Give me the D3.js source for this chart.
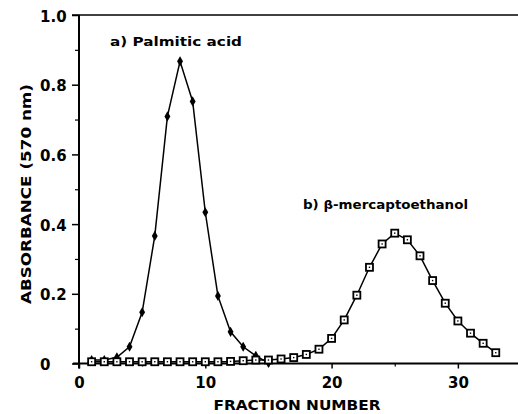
<!DOCTYPE html>
<html>
<head>
<meta charset="utf-8">
<script src="https://cdn.jsdelivr.net/npm/d3@7"></script>
<style>
  html, body { margin: 0; padding: 0; background: #fff; }
  svg { display: block; }
  text { font-family: "DejaVu Sans", "Liberation Sans", Arial, sans-serif; font-weight: bold; fill: #000; }
</style>
</head>
<body>
<svg id="chart" width="518" height="414"></svg>
<script>
// ---- data ----
const fractionsA = [1,2,3,4,5,6,7,8,9,10,11,12,13,14,15];
const palmitic   = [0.010,0.010,0.018,0.048,0.147,0.366,0.709,0.867,0.752,0.434,0.194,0.091,0.048,0.022,0.002];
const fractionsB = [1,2,3,4,5,6,7,8,9,10,11,12,13,14,15,16,17,18,19,20,21,22,23,24,25,26,27,28,29,30,31,32,33];
const mercapto   = [0.005,0.005,0.005,0.005,0.005,0.005,0.005,0.005,0.005,0.005,0.005,0.006,0.008,0.010,0.010,
                    0.013,0.017,0.026,0.041,0.072,0.125,0.196,0.276,0.343,0.374,0.355,0.309,0.238,0.173,0.122,0.087,0.058,0.031];
const xTicks      = [0,10,20,30];
const xMinorTicks = [5,15,25];
const yTicks      = [0,0.2,0.4,0.6,0.8,1.0];
const yTickLabels = ["0","0.2","0.4","0.6","0.8","1.0"];
const yMinorTicks = [0.1,0.3,0.5,0.7,0.9];
const labelA = "a) Palmitic acid";
const labelB = "b) \u03B2-mercaptoethanol";
const xTitle = "FRACTION NUMBER";
const yTitle = "ABSORBANCE (570 nm)";

const svg = d3.select("#chart");
const x = d3.scaleLinear().domain([0, 34.76]).range([79, 518]);
const y = d3.scaleLinear().domain([0, 1]).range([363.5, 15]);

// axes
const yAxis = d3.axisLeft(y).tickValues(yTicks).tickSize(7).tickSizeOuter(0)
  .tickFormat((d,i) => yTickLabels[i]);
const gy = svg.append("g").attr("transform", `translate(${x(0)},0)`).call(yAxis);
gy.select(".domain").remove();
gy.selectAll(".tick line").attr("stroke", "#000").attr("stroke-width", 1.5);
gy.selectAll(".tick text").attr("text-anchor", "start").attr("x", 40 - x(0))
  .attr("dy", "0.4em").style("font-size", "15px")
  .style("font-family", "'DejaVu Sans', sans-serif").style("font-weight", "bold");

const yMinor = d3.axisLeft(y).tickValues(yMinorTicks).tickSize(4).tickFormat("");
const gym = svg.append("g").attr("transform", `translate(${x(0)},0)`).call(yMinor);
gym.select(".domain").remove();
gym.selectAll(".tick line").attr("stroke", "#000").attr("stroke-width", 1.2);

const xAxis = d3.axisBottom(x).tickValues(xTicks).tickSize(5).tickSizeOuter(0).tickFormat(d3.format("d"));
const gx = svg.append("g").attr("transform", `translate(0,${y(0)})`).call(xAxis);
gx.select(".domain").remove();
gx.selectAll(".tick line").attr("stroke", "#000").attr("stroke-width", 1.5);
gx.selectAll(".tick text").attr("y", 14).attr("dy", "0.71em").style("font-size", "15px")
  .style("font-family", "'DejaVu Sans', sans-serif").style("font-weight", "bold");

const xMinor = d3.axisBottom(x).tickValues(xMinorTicks).tickSize(3).tickFormat("");
const gxm = svg.append("g").attr("transform", `translate(0,${y(0)})`).call(xMinor);
gxm.select(".domain").remove();
gxm.selectAll(".tick line").attr("stroke", "#000").attr("stroke-width", 1.2);

// axis lines
svg.append("line").attr("x1", x(0) - 6).attr("x2", 518).attr("y1", y(0)).attr("y2", y(0))
  .attr("stroke", "#000").attr("stroke-width", 2);
svg.append("line").attr("x1", x(0)).attr("x2", x(0)).attr("y1", y(1)).attr("y2", y(0) + 5)
  .attr("stroke", "#000").attr("stroke-width", 2);
svg.append("line").attr("x1", x(0) - 7).attr("x2", 518).attr("y1", y(1)).attr("y2", y(1))
  .attr("stroke", "#000").attr("stroke-width", 1.5);

// series lines
const line = d3.line().x(d => x(d[0])).y(d => y(d[1]));
const dataA = fractionsA.map((f,i) => [f, palmitic[i]]);
const dataB = fractionsB.map((f,i) => [f, mercapto[i]]);

svg.append("path").datum(dataA).attr("d", line).attr("fill", "none")
  .attr("stroke", "#000").attr("stroke-width", 1.5);
svg.append("path").datum(dataB).attr("d", line).attr("fill", "none")
  .attr("stroke", "#000").attr("stroke-width", 1.5);

// markers
svg.append("g").selectAll("path").data(dataA).join("path")
  .attr("transform", d => `translate(${x(d[0])},${y(d[1])})`)
  .attr("d", d3.symbol(d3.symbolDiamond, 30)())
  .attr("fill", "#000");

const sq = svg.append("g").selectAll("g").data(dataB).join("g")
  .attr("transform", d => `translate(${x(d[0])},${y(d[1])})`);
sq.append("rect").attr("x", -3.5).attr("y", -3.5).attr("width", 7).attr("height", 7)
  .attr("fill", "#fff").attr("stroke", "#000").attr("stroke-width", 1.8);
sq.append("rect").attr("x", -0.7).attr("y", -0.7).attr("width", 1.4).attr("height", 1.4).attr("fill", "#000");

// annotations
svg.append("text").attr("x", 110).attr("y", 46).attr("textLength", 132).attr("lengthAdjust", "spacingAndGlyphs")
  .style("font-size", "12px").text(labelA);
svg.append("text").attr("x", 303).attr("y", 209).attr("textLength", 165).attr("lengthAdjust", "spacingAndGlyphs")
  .style("font-size", "12px").text(labelB);

// axis titles
svg.append("text").attr("x", 297).attr("y", 410).attr("text-anchor", "middle")
  .attr("textLength", 167).attr("lengthAdjust", "spacingAndGlyphs")
  .style("font-size", "14px").text(xTitle);
svg.append("text").attr("transform", "translate(31,194) rotate(-90)").attr("text-anchor", "middle")
  .attr("textLength", 220).attr("lengthAdjust", "spacingAndGlyphs")
  .style("font-size", "14px").text(yTitle);
</script>
</body>
</html>
